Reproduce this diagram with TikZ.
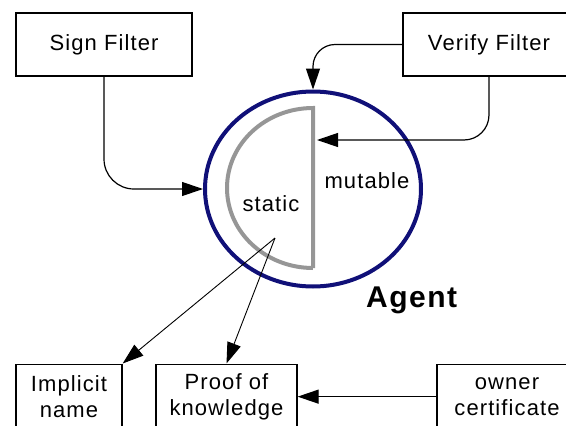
\documentclass[tikz,border=0pt]{standalone}
\usepackage{fontspec}
\setmainfont{Liberation Sans}
\newfontfamily\lblfont[LetterSpace=5]{Liberation Sans}
\newfontfamily\agentfont[LetterSpace=5]{Liberation Sans}
\usetikzlibrary{shapes.geometric,arrows.meta}

\definecolor{agentblue}{RGB}{16,16,120}
\definecolor{partgray}{RGB}{150,150,150}

\tikzset{
  lbl/.style={inner sep=0pt, font=\lblfont\fontsize{22}{26}\selectfont, align=center},
  box/.style={lbl, draw, line width=1.3pt},
  conn/.style={line width=1.2pt, -{Triangle[length=21pt,width=14pt]}},
  diag/.style={line width=0.9pt, -{Triangle[length=21pt,width=14pt]}},
  partline/.style={draw=partgray, line width=4pt, line join=miter}
}

\begin{document}
\begin{tikzpicture}[x=1pt,y=-1pt]
\clip (0,0) rectangle (566,426);

% filter boxes at the top
\node[box, minimum width=176pt, minimum height=63pt] (sign) at (104,44.5) {Sign Filter};
\node[box, minimum width=172pt, minimum height=63pt] (verify) at (489,44.5) {Verify Filter};

% the agent with its static and mutable parts
\node[draw=agentblue, line width=4pt, ellipse, minimum width=216pt, minimum height=195pt, inner sep=0pt] (agent) at (313,189) {};
\draw[partline] (313,268) -- (313,108) arc[start angle=90, end angle=270, x radius=86pt, y radius=80pt];
\node[lbl] (static) at (271,204) {static};
\node[lbl] (mutable) at (367,181) {mutable};
\node[anchor=base west, inner sep=0pt, font=\agentfont\bfseries\fontsize{30}{34}\selectfont] (agentlabel) at (366,307) {Agent};

\coordinate (mutin) at (317,140);
\coordinate (src) at (275,238);

% bottom boxes
\node[box, minimum width=106pt, minimum height=65pt, anchor=north] (implicit) at (69,363.5) {Implicit\\name};
\node[box, minimum width=141pt, minimum height=65pt, anchor=north] (proof) at (226.5,363.5) {Proof of\\knowledge};
\node[box, minimum width=140pt, minimum height=65pt, anchor=north] (owner) at (507,363.5) {owner\\certificate};

% connectors
\draw[conn, rounded corners=30pt] (sign.south) -- (sign.south |- agent.west) -- (agent.west);
\draw[conn, rounded corners=22pt] (verify.west) -- (agent.north |- verify.west) -- (agent.north);
\draw[conn, rounded corners=25pt] (verify.south) -- (verify.south |- mutin) -- (mutin);
\draw[diag] (src) -- (implicit.north east);
\draw[diag] (src) -- (proof.north);
\draw[conn] (owner.west) -- (proof.east);
\end{tikzpicture}
\end{document}
